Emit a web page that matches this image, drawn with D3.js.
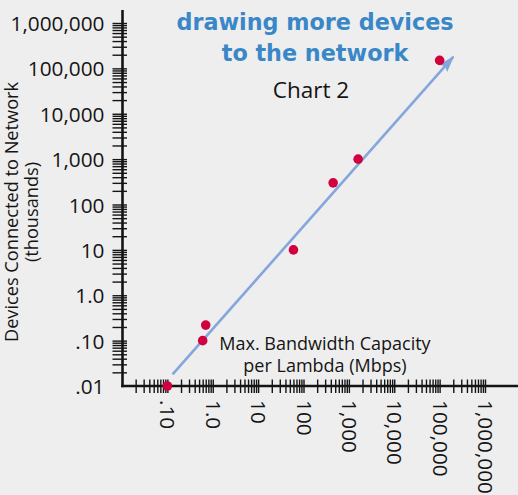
<!DOCTYPE html>
<html>
<head>
<meta charset="utf-8">
<script src="https://cdnjs.cloudflare.com/ajax/libs/d3/7.8.5/d3.min.js"></script>
<style>
  html, body { margin: 0; padding: 0; background: #eeeeee; }
  svg { display: block; }
</style>
</head>
<body>
<script>
// Bandwidth per lambda (Mbps) against devices connected (thousands)
const bandwidth = [0.1, 0.6, 0.7, 60, 450, 1600, 100000];
const devices   = [0.01, 0.1, 0.22, 10, 300, 1000, 150000];

// Trend arrow end points (bandwidth, devices)
const trendBandwidth = [0.13, 200000];
const trendDevices   = [0.018, 180000];

// Labelled decades on each axis
const xTickValues = [0.1, 1, 10, 100, 1000, 10000, 100000, 1000000];
const xTickLabels = [".10", "1.0", "10", "100", "1,000", "10,000", "100,000", "1,000,000"];
const yTickValues = [0.01, 0.1, 1, 10, 100, 1000, 10000, 100000, 1000000];
const yTickLabels = [".01", ".10", "1.0", "10", "100", "1,000", "10,000", "100,000", "1,000,000"];

const titleLines  = ["drawing more devices", "to the network"];
const subtitle    = "Chart 2";
const yTitleLines = ["Devices Connected to Network", "(thousands)"];
const xTitleLines = ["Max. Bandwidth Capacity", "per Lambda (Mbps)"];

const W = 518, H = 495;
const SANS = "'Open Sans', 'Noto Sans', sans-serif";
const INK = "#141414";
const POINT = "#d1003f";
const TREND = "#84a6dd";
const TITLE = "#3a87c8";

const svg = d3.select("body").append("svg")
  .attr("width", W).attr("height", H);

svg.append("rect").attr("width", W).attr("height", H).attr("fill", "#eeeeee");

const x = d3.scaleLog().domain([0.01, 1e6]).range([122, 485]);
const y = d3.scaleLog().domain([0.01, 1e6]).range([386, 23]);

const sameValue = (a, b) => Math.abs(Math.log10(a) - Math.log10(b)) < 1e-9;
const labelFor = (values, labels) => v => {
  const i = values.findIndex(t => sameValue(t, v));
  return i < 0 ? "" : labels[i];
};

// ---- Y axis: log ticks crossing the axis line
const yAxis = d3.axisLeft(y)
  .tickValues(y.ticks())
  .tickFormat(labelFor(yTickValues, yTickLabels))
  .tickSizeOuter(0);

const gy = svg.append("g")
  .attr("transform", `translate(${x.range()[0] + 0.5},0)`)
  .call(yAxis);
gy.select(".domain").remove();
gy.selectAll(".tick line")
  .attr("x1", -10).attr("x2", 4.5)
  .attr("stroke", INK).attr("stroke-width", 1.4)
  .attr("visibility", d => sameValue(d, y.domain()[0]) ? "hidden" : null);
gy.selectAll(".tick text")
  .attr("x", -18).attr("dy", "0.36em")
  .attr("fill", INK)
  .style("font-family", SANS).style("font-size", "20.8px");

// ---- X axis: log ticks with rotated labels
const xAxis = d3.axisBottom(x)
  .tickValues(x.ticks())
  .tickFormat(labelFor(xTickValues, xTickLabels))
  .tickSizeOuter(0);

const gx = svg.append("g")
  .attr("transform", `translate(0,${y.range()[0]})`)
  .call(xAxis);
gx.select(".domain").remove();
gx.selectAll(".tick line")
  .attr("y1", -6.5).attr("y2", 7)
  .attr("stroke", INK).attr("stroke-width", 1.4)
  .attr("visibility", d => sameValue(d, x.domain()[0]) ? "hidden" : null);
gx.selectAll(".tick text")
  .attr("transform", "rotate(90)")
  .attr("x", 14).attr("y", 0).attr("dy", "0.36em")
  .attr("fill", INK)
  .style("text-anchor", "start")
  .style("font-family", SANS).style("font-size", "20.8px");

// Axis lines
svg.append("line")
  .attr("x1", x.range()[0] + 0.5).attr("x2", x.range()[0] + 0.5)
  .attr("y1", 10).attr("y2", y.range()[0] + 1.2)
  .attr("stroke", INK).attr("stroke-width", 2.6);
svg.append("line")
  .attr("x1", x.range()[0] - 0.8).attr("x2", W)
  .attr("y1", y.range()[0]).attr("y2", y.range()[0])
  .attr("stroke", INK).attr("stroke-width", 2.6);

// ---- Trend arrow
svg.append("defs").append("marker")
  .attr("id", "arrowhead")
  .attr("viewBox", "0 0 17 11")
  .attr("refX", 15.5).attr("refY", 5.5)
  .attr("markerWidth", 17).attr("markerHeight", 11)
  .attr("markerUnits", "userSpaceOnUse")
  .attr("orient", "auto")
  .append("path")
  .attr("d", "M0,0 L17,5.5 L0,11 L3,5.5 Z")
  .attr("fill", TREND);

const trend = trendBandwidth.map((b, i) => [b, trendDevices[i]]);
svg.append("path")
  .datum(trend)
  .attr("d", d3.line().x(d => x(d[0])).y(d => y(d[1])))
  .attr("fill", "none")
  .attr("stroke", TREND)
  .attr("stroke-width", 2.6)
  .attr("marker-end", "url(#arrowhead)");

// ---- Points
svg.append("g").selectAll("circle")
  .data(bandwidth.map((b, i) => [b, devices[i]]))
  .join("circle")
  .attr("cx", d => x(d[0]))
  .attr("cy", d => y(d[1]))
  .attr("r", 4.8)
  .attr("fill", POINT);

// ---- Titles
svg.append("text")
  .attr("x", 315).attr("y", 29.5)
  .attr("text-anchor", "middle")
  .attr("fill", TITLE)
  .style("font-family", "'DejaVu Sans', sans-serif")
  .style("font-weight", "bold")
  .style("font-size", "22.3px")
  .selectAll("tspan")
  .data(titleLines)
  .join("tspan")
  .attr("x", 315)
  .attr("dy", (d, i) => i === 0 ? 0 : 31)
  .text(d => d);

svg.append("text")
  .attr("x", 311).attr("y", 97.5)
  .attr("text-anchor", "middle")
  .attr("fill", INK)
  .style("font-family", SANS).style("font-size", "22.5px")
  .text(subtitle);

// Y axis title, rotated
svg.append("g")
  .attr("transform", "translate(18,212) rotate(-90)")
  .append("text")
  .attr("text-anchor", "middle")
  .attr("fill", INK)
  .style("font-family", SANS).style("font-size", "18.2px")
  .selectAll("tspan")
  .data(yTitleLines)
  .join("tspan")
  .attr("x", 0)
  .attr("y", (d, i) => i * 20)
  .text(d => d);

// X axis title, inside the plot
svg.append("text")
  .attr("text-anchor", "middle")
  .attr("fill", INK)
  .style("font-family", SANS).style("font-size", "18px")
  .selectAll("tspan")
  .data(xTitleLines)
  .join("tspan")
  .attr("x", 325)
  .attr("y", (d, i) => 350 + i * 22)
  .text(d => d);
</script>
</body>
</html>
